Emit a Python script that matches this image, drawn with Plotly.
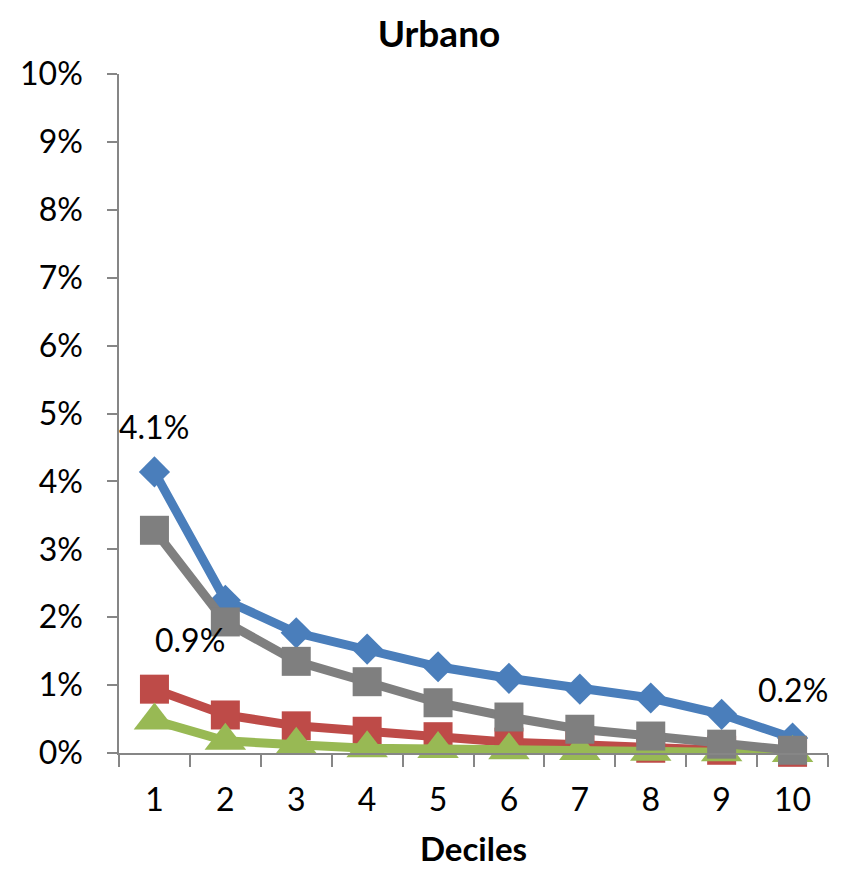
import plotly.graph_objects as go

deciles = ["1", "2", "3", "4", "5", "6", "7", "8", "9", "10"]
serie_azul = [4.14, 2.25, 1.77, 1.53, 1.27, 1.10, 0.94, 0.81, 0.57, 0.22]
serie_roja = [0.94, 0.56, 0.40, 0.32, 0.24, 0.16, 0.12, 0.07, 0.04, 0.01]
serie_verde = [0.48, 0.18, 0.12, 0.07, 0.06, 0.04, 0.03, 0.02, 0.01, 0.00]
serie_gris = [3.28, 1.93, 1.35, 1.05, 0.74, 0.53, 0.35, 0.25, 0.13, 0.04]
y_ticks = [0, 1, 2, 3, 4, 5, 6, 7, 8, 9, 10]
y_tick_labels = [f"{v}%" for v in y_ticks]

FONT = "Lato"

fig = go.Figure()
series = [
    (serie_azul, "#4A7EBB", "diamond", 24),
    (serie_roja, "#BE4B48", "square", 29),
    (serie_verde, "#98B954", "triangle-up", 36),
    (serie_gris, "#7F7F7F", "square", 29),
]
for vals, color, symbol, size in series:
    fig.add_trace(go.Scatter(
        x=deciles, y=vals, mode="lines+markers",
        line=dict(color=color, width=9),
        marker=dict(symbol=symbol, size=size, color=color, line=dict(width=0)),
        showlegend=False, cliponaxis=False,
    ))

# (category index, value, xshift, yshift)
labels = [
    (0, serie_azul[0], 0, 45),
    (0, serie_roja[0], 36, 50),
    (9, serie_azul[9], 0, 49),
]
for xi, y, xs, ys in labels:
    fig.add_annotation(x=xi, y=y, text=f"{y:.1f}%", showarrow=False,
                       xshift=xs, yshift=ys,
                       font=dict(family=FONT, size=32, color="#000000"))

W, H = 843, 869
fig.update_layout(
    width=W, height=H,
    margin=dict(l=109, r=23, t=66, b=124),
    paper_bgcolor="white", plot_bgcolor="white",
    font=dict(family=FONT, color="#000000"),
    title=dict(text="<b>Urbano</b>", x=431 / W, xanchor="center",
               y=1 - 26 / H, yanchor="middle",
               font=dict(family=FONT, size=37, color="#000000")),
)
fig.update_xaxes(
    type="category", range=[-0.5, 9.5],
    showline=True, linecolor="#868686", linewidth=1.5,
    ticks="outside", tickson="boundaries", ticklen=12, tickcolor="#868686", tickwidth=1.5,
    tickfont=dict(family=FONT, size=32, color="#000000"),
    ticklabelstandoff=18,
    showgrid=False, zeroline=False,
    title=dict(text="<b>Deciles</b>", font=dict(family=FONT, size=33, color="#000000"), standoff=21),
)
fig.update_yaxes(
    range=[0, 10], tickvals=y_ticks, ticktext=y_tick_labels,
    showline=True, linecolor="#868686", linewidth=1.5,
    ticks="outside", ticklen=10, tickcolor="#868686", tickwidth=1.5,
    tickfont=dict(family=FONT, size=32, color="#000000"),
    ticklabelstandoff=18,
    showgrid=False, zeroline=False,
)

fig.write_html("out.html")
